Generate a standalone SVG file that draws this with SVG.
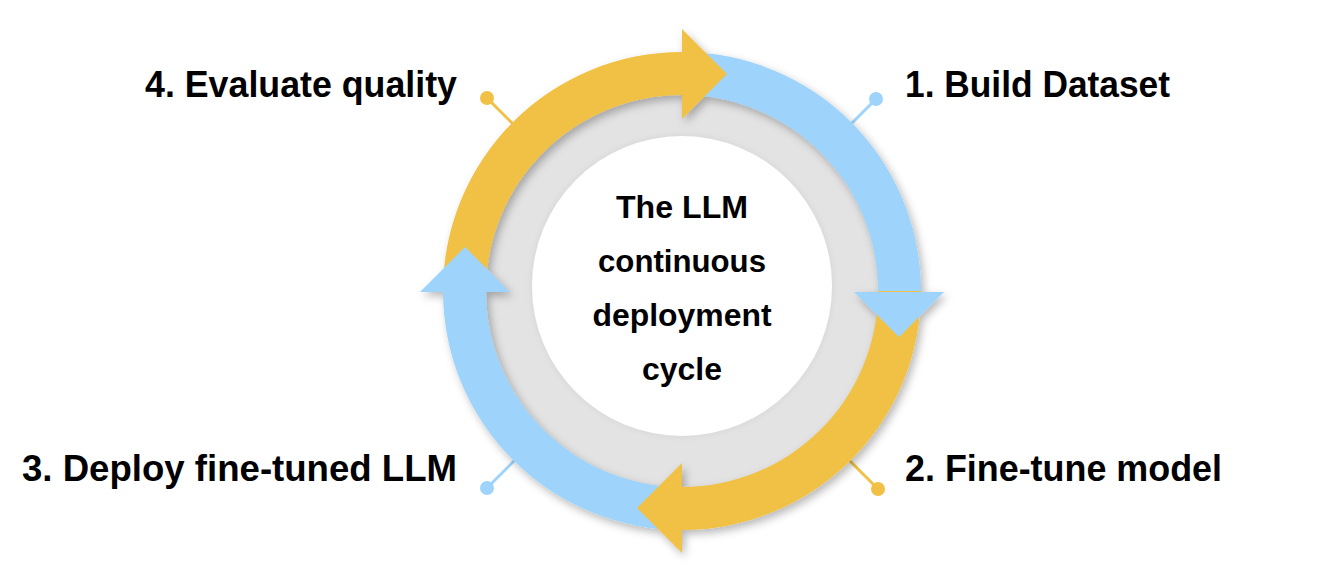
<svg xmlns="http://www.w3.org/2000/svg" width="1325" height="585" viewBox="0 0 1325 585">
  <defs>
    <filter id="shadow" x="-20%" y="-20%" width="140%" height="140%">
      <feDropShadow dx="3" dy="4" stdDeviation="4" flood-color="#000" flood-opacity="0.28"/>
    </filter>
    <filter id="soft" x="-20%" y="-20%" width="140%" height="140%">
      <feDropShadow dx="0" dy="0" stdDeviation="3" flood-color="#000" flood-opacity="0.08"/>
    </filter>
  </defs>
  <style>
    .yellow { fill: #F0C145; }
    .blue { fill: #9ED3FB; }
    .lead-y { stroke: #F0C145; stroke-width: 3; }
    .lead-b { stroke: #9ED3FB; stroke-width: 3; }
    .label { font-family: "Liberation Sans", Arial, sans-serif; font-weight: bold; font-size: 36px; fill: #000; }
    .center { font-family: "Liberation Sans", Arial, sans-serif; font-weight: bold; font-size: 31px; fill: #000; text-anchor: middle; }
  </style>
  <rect width="1325" height="585" fill="#fff"/>

  <g id="connectors">
    <line class="lead-y" x1="487" y1="98" x2="525" y2="136"/>
    <circle class="yellow" cx="487" cy="98" r="7"/>
    <line class="lead-b" x1="876" y1="99" x2="840" y2="135"/>
    <circle class="blue" cx="876" cy="99" r="7"/>
    <line class="lead-b" x1="487" y1="488" x2="524" y2="451"/>
    <circle class="blue" cx="487" cy="488" r="7"/>
    <line class="lead-y" x1="878" y1="489" x2="840" y2="451"/>
    <circle class="yellow" cx="878" cy="489" r="7"/>
  </g>

  <g id="hub">
    <circle cx="682" cy="291" r="205" fill="#E3E3E3"/>
    <circle cx="682" cy="286" r="150" fill="#FFFFFF" filter="url(#soft)"/>
    <text class="center" x="682" y="218" textLength="132" lengthAdjust="spacingAndGlyphs">The LLM</text>
    <text class="center" x="682" y="272" textLength="168" lengthAdjust="spacingAndGlyphs">continuous</text>
    <text class="center" x="682" y="326" textLength="179" lengthAdjust="spacingAndGlyphs">deployment</text>
    <text class="center" x="682" y="380" textLength="80" lengthAdjust="spacingAndGlyphs">cycle</text>
  </g>

  <g id="cycle" filter="url(#shadow)">
    <path class="yellow" d="M 443 291 A 239 239 0 0 1 682 52 L 682 95 A 196 196 0 0 0 486 291 Z"/>
    <path class="blue" d="M 682 52 A 239 239 0 0 1 921 291 L 878 291 A 196 196 0 0 0 682 95 Z"/>
    <path class="yellow" d="M 921 291 A 239 239 0 0 1 682 530 L 682 487 A 196 196 0 0 0 878 291 Z"/>
    <path class="blue" d="M 682 530 A 239 239 0 0 1 443 291 L 486 291 A 196 196 0 0 0 682 487 Z"/>
    <polygon class="yellow" points="682,29 682,119 727,74"/>
    <polygon class="blue" points="854,292 944,292 899,337"/>
    <polygon class="yellow" points="682,463 682,553 637,508"/>
    <polygon class="blue" points="420,292 510,292 465,247"/>
  </g>

  <g id="step1">
    <text class="label" x="905" y="97" textLength="265" lengthAdjust="spacingAndGlyphs">1. Build Dataset</text>
  </g>
  <g id="step2">
    <text class="label" x="905" y="481" textLength="317" lengthAdjust="spacingAndGlyphs">2. Fine-tune model</text>
  </g>
  <g id="step3">
    <text class="label" x="457" y="481" text-anchor="end" textLength="435" lengthAdjust="spacingAndGlyphs">3. Deploy fine-tuned LLM</text>
  </g>
  <g id="step4">
    <text class="label" x="457" y="97" text-anchor="end" textLength="312" lengthAdjust="spacingAndGlyphs">4. Evaluate quality</text>
  </g>
</svg>
